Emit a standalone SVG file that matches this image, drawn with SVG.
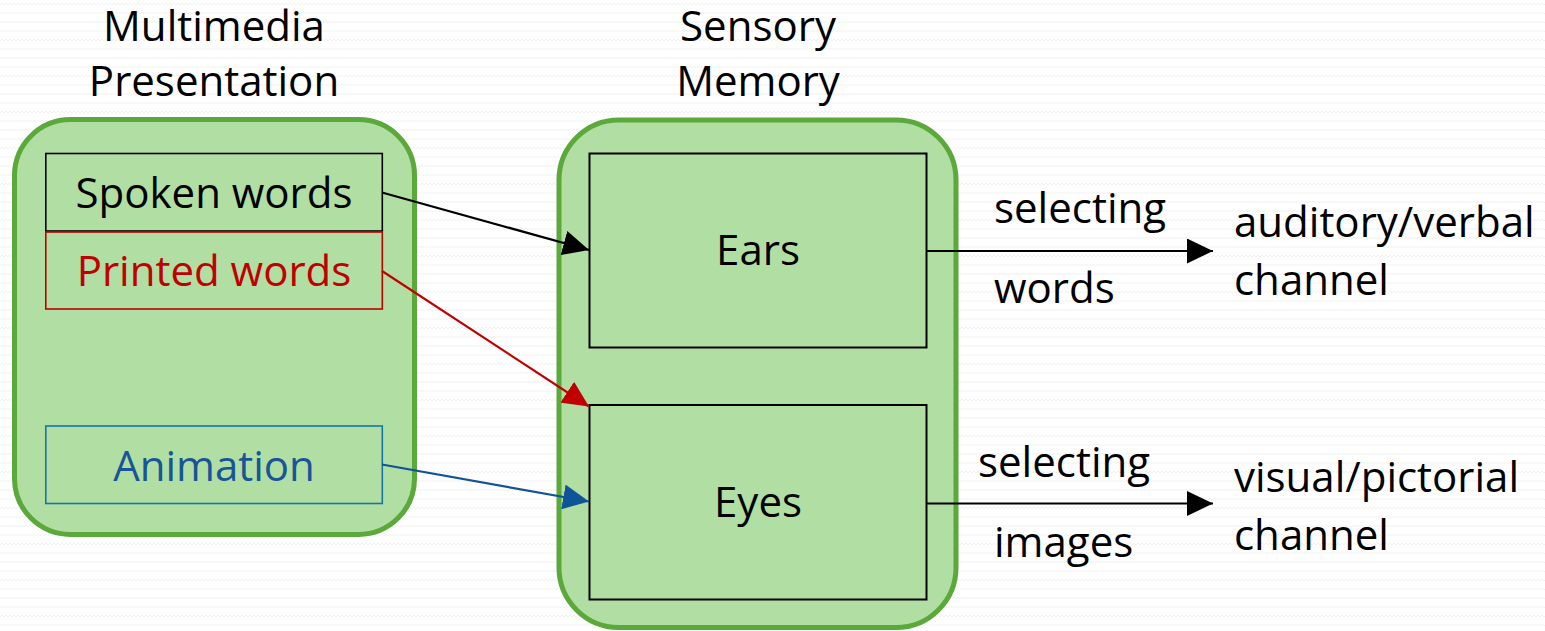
<svg xmlns="http://www.w3.org/2000/svg" width="1545" height="631" viewBox="0 0 1545 631">
  <style>
    text { font-family: "Open Sans", "Liberation Sans", sans-serif; font-size: 42px; fill: #000; }
    .mid { text-anchor: middle; }
    .group { fill: #b1dea2; stroke: #5ba83b; stroke-width: 5; }
    .item { fill: none; stroke-width: 1.6; }
    .organ { fill: none; stroke: #000; stroke-width: 2; }
    .link { fill: none; stroke-width: 2.2; }
  </style>
  <defs>
    <pattern id="zigzag" width="8" height="9" patternUnits="userSpaceOnUse">
      <polyline points="0,5 2,3 4,5 6,3 8,5" fill="none" stroke="#f2f2f2" stroke-width="1"/>
    </pattern>
    <marker id="headBlack" viewBox="0 0 26 25" refX="26" refY="12.5" markerWidth="26" markerHeight="25" markerUnits="userSpaceOnUse" orient="auto">
      <path d="M0,0 L26,12.5 L0,25 Z" fill="#000"/>
    </marker>
    <marker id="headRed" viewBox="0 0 26 25" refX="26" refY="12.5" markerWidth="26" markerHeight="25" markerUnits="userSpaceOnUse" orient="auto">
      <path d="M0,0 L26,12.5 L0,25 Z" fill="#c00000"/>
    </marker>
    <marker id="headBlue" viewBox="0 0 26 25" refX="26" refY="12.5" markerWidth="26" markerHeight="25" markerUnits="userSpaceOnUse" orient="auto">
      <path d="M0,0 L26,12.5 L0,25 Z" fill="#0f5399"/>
    </marker>
  </defs>

  <!-- page background -->
  <rect width="1545" height="631" fill="#fff"/>
  <rect width="1545" height="631" fill="url(#zigzag)"/>

  <!-- multimedia presentation column -->
  <g id="multimedia">
    <text class="mid" x="214" y="41">Multimedia</text>
    <text class="mid" x="214" y="96">Presentation</text>
    <rect class="group" x="14.5" y="119.5" width="400" height="415" rx="56"/>
  </g>
  <g id="spoken">
    <rect class="item" stroke="#000" x="45.8" y="153.5" width="336.5" height="77.5"/>
    <text class="mid" x="214" y="208">Spoken words</text>
  </g>
  <g id="printed">
    <rect class="item" stroke="#c00000" x="45.8" y="232" width="336.5" height="77"/>
    <text class="mid" x="214" y="286" style="fill:#c00000">Printed words</text>
  </g>
  <g id="animation">
    <rect class="item" stroke="#1677a6" x="45.8" y="426" width="336.5" height="77.5"/>
    <text class="mid" x="214" y="481" style="fill:#185598">Animation</text>
  </g>

  <!-- sensory memory column -->
  <g id="sensory">
    <text class="mid" x="758" y="41">Sensory</text>
    <text class="mid" x="758" y="96">Memory</text>
    <rect class="group" x="559" y="120" width="397" height="507.5" rx="60"/>
  </g>
  <g id="ears">
    <rect class="organ" x="589.5" y="153.5" width="337" height="194"/>
    <text class="mid" x="758" y="265">Ears</text>
  </g>
  <g id="eyes">
    <rect class="organ" x="589.5" y="405" width="337" height="194.5"/>
    <text class="mid" x="758" y="517">Eyes</text>
  </g>

  <!-- channels -->
  <g id="verbal">
    <text x="1234" y="237">auditory/verbal</text>
    <text x="1234" y="295">channel</text>
  </g>
  <g id="pictorial">
    <text x="1234" y="492">visual/pictorial</text>
    <text x="1234" y="550">channel</text>
  </g>

  <!-- connectors -->
  <g id="connectors">
    <line class="link" stroke="#000" x1="382" y1="192.5" x2="589" y2="250" marker-end="url(#headBlack)"/>
    <line class="link" stroke="#c00000" x1="382" y1="271" x2="589" y2="406.5" marker-end="url(#headRed)"/>
    <line class="link" stroke="#0f5399" x1="382" y1="464.5" x2="589" y2="501.5" marker-end="url(#headBlue)"/>
    <line class="link" stroke="#000" x1="926.5" y1="251" x2="1213" y2="251" marker-end="url(#headBlack)"/>
    <line class="link" stroke="#000" x1="926.5" y1="503.5" x2="1213" y2="503.5" marker-end="url(#headBlack)"/>
    <text x="994" y="223">selecting</text>
    <text x="994" y="303">words</text>
    <text x="978" y="477">selecting</text>
    <text x="994" y="557">images</text>
  </g>
</svg>
